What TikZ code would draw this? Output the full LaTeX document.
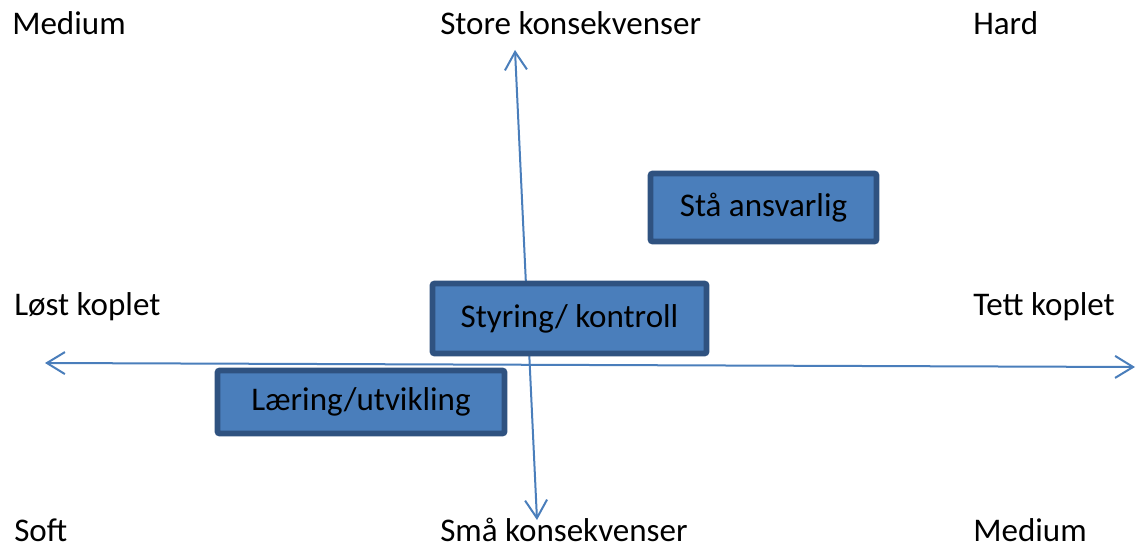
\documentclass[tikz,border=0pt]{standalone}
\usepackage{fontspec}
\setmainfont{Carlito}
\usetikzlibrary{arrows.meta}
\definecolor{boxfill}{RGB}{74,126,187}
\definecolor{boxline}{RGB}{47,82,128}
\definecolor{axisblue}{RGB}{74,126,187}
\begin{document}
\begin{tikzpicture}[x=0.025cm,y=-0.025cm,
  every node/.style={font=\fontsize{23.5}{28}\selectfont,inner sep=0pt},
  corner/.style={anchor=base west},
  box/.style={fill=boxfill,draw=boxline,line width=1.4mm,rounded corners=0.5mm},
  axis/.style={draw=axisblue,line width=0.5mm,{Straight Barb[length=4.5mm,width=5.5mm]}-{Straight Barb[length=4.5mm,width=5.5mm]}}]
\useasboundingbox (0,0) rectangle (1137,551);
\node[corner] (medtop) at (12,35) {Medium};
\node[corner] (store) at (440,35) {Store konsekvenser};
\node[corner] (hard) at (973,35) {Hard};
\node[corner] (lost) at (14,315) {Løst koplet};
\node[corner] (tett) at (973,315) {Tett koplet};
\node[corner] (soft) at (14,541) {Soft};
\node[corner] (smaa) at (440,541) {Små konsekvenser};
\node[corner] (medbot) at (973,541) {Medium};
\coordinate (top) at (515,50);\coordinate (bottom) at (537,520);
\coordinate (left) at (45,363);\coordinate (right) at (1135,367);
\path[axis] (top)--(bottom);
\path[axis] (left)--(right);
\node[box,minimum width=6.85cm,minimum height=1.75cm] (styring) at (569.5,318.5) {Styring/ kontroll};
\node[box,minimum width=5.65cm,minimum height=1.7cm] (staa) at (763.5,207.5) {Stå ansvarlig};
\node[box,minimum width=7.175cm,minimum height=1.575cm] (laering) at (361,402) {Læring/utvikling};
\end{tikzpicture}
\end{document}
